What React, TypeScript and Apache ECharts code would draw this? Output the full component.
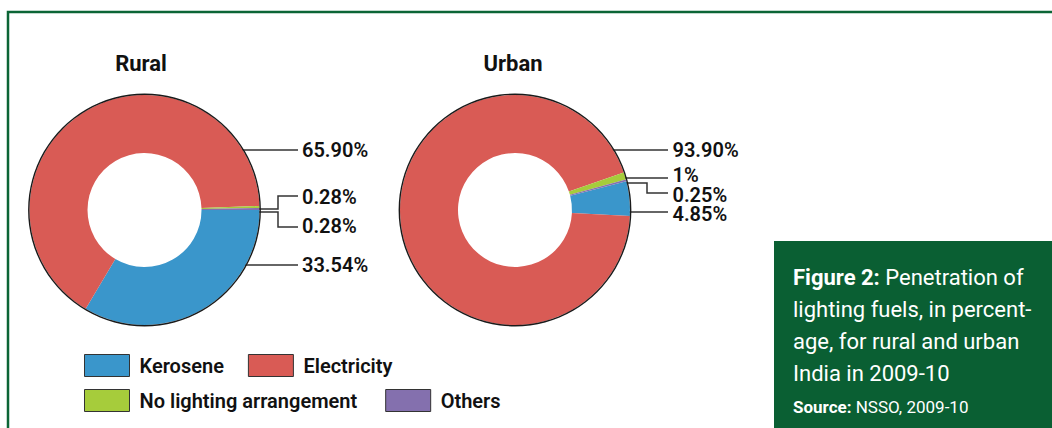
import React, { useEffect, useRef } from 'react';
import * as echarts from 'echarts';

// ---- data ----
const categories = ['Kerosene', 'Electricity', 'No lighting arrangement', 'Others'];
const ruralValues = [33.54, 65.9, 0.28, 0.28];
const urbanValues = [4.85, 93.9, 1, 0.25];
const panelTitles = ['Rural', 'Urban'];
const legendRow1 = ['Kerosene', 'Electricity'];
const legendRow2 = ['No lighting arrangement', 'Others'];
const captionTitle = 'Figure 2:';
const captionBody = ' Penetration of\nlighting fuels, in percent-\nage, for rural and urban\nIndia in 2009-10';
const sourceTitle = 'Source:';
const sourceBody = ' NSSO, 2009-10';

// ---- styles / layout ----
const colors = ['#3a96cb', '#d95b55', '#a6cc3b', '#8470ae'];
const CY = 210;
const RURAL_CX = 144.5;
const URBAN_CX = 515;
const R_IN = 57;
const R_OUT = 115;
const LABEL_DX = 157.5;

// label spots relative to each pie's centre: label y offset and leader line points
const ruralSpots = [
  { dy: 55, line: [[98.5, 55], [153.5, 55]] },
  { dy: -60, line: [[92.5, -60], [153.5, -60]] },
  { dy: -13, line: [[113.5, -1], [133.5, -1], [133.5, -14], [153.5, -14]] },
  { dy: 16, line: [[113.5, 2], [133.5, 2], [133.5, 17], [153.5, 17]] },
];
const urbanSpots = [
  { dy: 3.5, line: [[108, 2], [153, 2]] },
  { dy: -60, line: [[90, -60], [153, -60]] },
  { dy: -35, line: [[108, -32], [153, -32]] },
  { dy: -15.5, line: [[110, -27], [132, -27], [132, -17], [153, -17]] },
];

const fmt = (v: number) => (Number.isInteger(v) ? String(v) : v.toFixed(2)) + '%';

const makeLabelLayout = (cx: number, spots: any[]) => (params: any) => {
  const s = spots[params.dataIndex];
  if (!s) return {};
  return {
    x: cx + LABEL_DX,
    y: CY + s.dy,
    align: 'left',
    verticalAlign: 'middle',
    labelLinePoints: s.line.map((p: number[]) => [cx + p[0], CY + p[1]]),
  };
};

const labelFont = { fontFamily: 'Roboto', fontSize: 20, fontWeight: 600, color: '#111', lineHeight: 16 };

const donut = (name: string, cx: number, values: number[], startAngle: number, spots: any[]) => ({
  type: 'pie',
  name,
  center: [cx, CY],
  radius: [R_IN, R_OUT],
  startAngle,
  clockwise: true,
  avoidLabelOverlap: false,
  data: categories.map((c, i) => ({ name: c, value: values[i] })),
  itemStyle: { borderWidth: 0 },
  label: {
    show: true,
    position: 'outside',
    formatter: (p: any) => fmt(p.value),
    ...labelFont,
  },
  labelLine: { show: true, lineStyle: { color: '#333', width: 1.5 } },
  labelLayout: makeLabelLayout(cx, spots),
  emphasis: { disabled: true },
});

const outline = (cx: number) => ({
  type: 'pie',
  center: [cx, CY],
  radius: [R_OUT, R_OUT + 1.4],
  silent: true,
  label: { show: false },
  labelLine: { show: false },
  data: [{ name: 'outline', value: 1, itemStyle: { color: '#1a1a1a' } }],
  emphasis: { disabled: true },
});

const legendText = {
  fontFamily: 'Roboto',
  fontSize: 20,
  fontWeight: 600,
  color: '#111',
  padding: [0, 0, 0, 5],
};

const titleText = { fontFamily: 'Roboto', fontWeight: 'bold', fontSize: 22, color: '#111' };

export default function App() {
  const ref = useRef<HTMLDivElement>(null);
  useEffect(() => {
    if (!ref.current) return;
    const chart = echarts.init(ref.current, null, { renderer: 'svg' });
    chart.setOption({
      animation: false,
      color: colors,
      title: [
        { text: panelTitles[0], left: 141, top: 52, textAlign: 'center', padding: 0, textStyle: titleText },
        { text: panelTitles[1], left: 513, top: 52, textAlign: 'center', padding: 0, textStyle: titleText },
      ],
      legend: [
        {
          data: legendRow1,
          left: 84,
          top: 354,
          padding: 0,
          itemGap: 24,
          itemWidth: 45,
          itemHeight: 22,
          icon: 'rect',
          selectedMode: false,
          itemStyle: { borderColor: '#333', borderWidth: 1 },
          textStyle: legendText,
        },
        {
          data: legendRow2,
          left: 84,
          top: 389,
          padding: 0,
          itemGap: 28,
          itemWidth: 45,
          itemHeight: 22,
          icon: 'rect',
          selectedMode: false,
          itemStyle: { borderColor: '#333', borderWidth: 1 },
          textStyle: legendText,
        },
      ],
      series: [
        donut('Rural', RURAL_CX, ruralValues, 0, ruralSpots),
        donut('Urban', URBAN_CX, urbanValues, 14.5, urbanSpots),
        outline(RURAL_CX),
        outline(URBAN_CX),
      ],
      graphic: [
        {
          type: 'polyline',
          silent: true,
          shape: { points: [[8, 430], [8, 12], [1054, 12]] },
          style: { stroke: '#0b6535', lineWidth: 2.5, fill: null },
        },
        {
          type: 'rect',
          silent: true,
          shape: { x: 774, y: 241, width: 280, height: 190 },
          style: { fill: '#0a5f33' },
        },
        {
          type: 'text',
          silent: true,
          x: 793,
          y: 261,
          style: {
            text: '{b|' + captionTitle + '}' + captionBody,
            fill: '#ffffff',
            fontFamily: 'Roboto',
            fontSize: 22,
            lineHeight: 32,
            verticalAlign: 'top',
            rich: {
              b: { fontFamily: 'Roboto', fontSize: 22, fontWeight: 'bold', fill: '#ffffff', lineHeight: 32 },
            },
          },
        },
        {
          type: 'text',
          silent: true,
          x: 793,
          y: 397,
          style: {
            text: '{b|' + sourceTitle + '}' + sourceBody,
            fill: '#ffffff',
            fontFamily: 'Roboto',
            fontSize: 17,
            lineHeight: 20,
            verticalAlign: 'top',
            rich: {
              b: { fontFamily: 'Roboto', fontSize: 17, fontWeight: 'bold', fill: '#ffffff', lineHeight: 20 },
            },
          },
        },
      ],
    });
    return () => chart.dispose();
  }, []);
  return (
    <div
      ref={ref}
      style={{ position: 'fixed', left: 0, top: 0, width: 1052, height: 428, background: '#ffffff' }}
    />
  );
}
